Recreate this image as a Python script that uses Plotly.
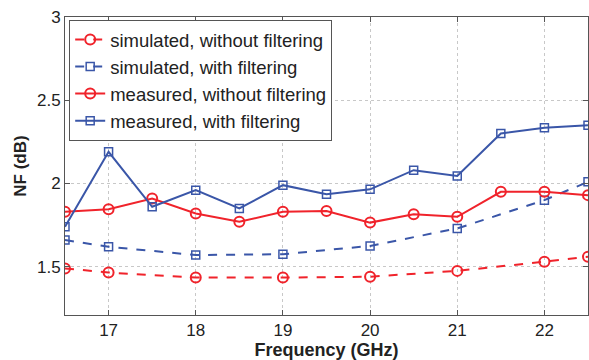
import plotly.graph_objects as go

freq_sim = [16.5, 17, 18, 19, 20, 21, 22, 22.5]
sim_without = [1.49, 1.465, 1.435, 1.435, 1.44, 1.475, 1.53, 1.56]
sim_with = [1.66, 1.62, 1.57, 1.575, 1.625, 1.73, 1.90, 2.01]

freq_meas = [16.5, 17, 17.5, 18, 18.5, 19, 19.5, 20, 20.5, 21, 21.5, 22, 22.5]
meas_without = [1.83, 1.845, 1.91, 1.82, 1.77, 1.83, 1.835, 1.765, 1.815, 1.80, 1.95, 1.95, 1.93]
meas_with = [1.74, 2.19, 1.86, 1.96, 1.85, 1.99, 1.935, 1.965, 2.08, 2.045, 2.30, 2.335, 2.35]

names = ["simulated, without filtering", "simulated, with filtering",
         "measured, without filtering", "measured, with filtering"]

RED = "#f0232b"
BLUE = "#3a56a8"
FONT = "Liberation Sans, Arial"

fig = go.Figure()
fig.add_trace(go.Scatter(x=freq_sim, y=sim_without, name=names[0], mode="lines+markers",
                         line=dict(color=RED, width=2, dash="dash"),
                         marker=dict(symbol="circle-open", size=10, color=RED, line=dict(width=2))))
fig.add_trace(go.Scatter(x=freq_sim, y=sim_with, name=names[1], mode="lines+markers",
                         line=dict(color=BLUE, width=2, dash="dash"),
                         marker=dict(symbol="square-open", size=8, color=BLUE, line=dict(width=1.5))))
fig.add_trace(go.Scatter(x=freq_meas, y=meas_without, name=names[2], mode="lines+markers",
                         line=dict(color=RED, width=2),
                         marker=dict(symbol="circle-open", size=10, color=RED, line=dict(width=2))))
fig.add_trace(go.Scatter(x=freq_meas, y=meas_with, name=names[3], mode="lines+markers",
                         line=dict(color=BLUE, width=2),
                         marker=dict(symbol="square-open", size=8, color=BLUE, line=dict(width=1.5))))

axis_common = dict(showline=True, linecolor="#555555", linewidth=1, mirror="ticks",
                   ticks="inside", ticklen=5, tickcolor="#555555",
                   showgrid=True, gridcolor="#c8c8c8", griddash="dot", gridwidth=1,
                   zeroline=False,
                   tickfont=dict(family=FONT, size=17, color="#222222"))

fig.update_layout(
    width=589, height=360,
    margin=dict(l=65, r=1, t=17, b=45),
    paper_bgcolor="white", plot_bgcolor="white",
    xaxis=dict(range=[16.5, 22.5], tickvals=[17, 18, 19, 20, 21, 22],
               title=dict(text="<b>Frequency (GHz)</b>", standoff=5,
                          font=dict(family=FONT, size=18, color="#222222")),
               **axis_common),
    yaxis=dict(range=[1.21, 3], tickvals=[1.5, 2, 2.5, 3], ticktext=["1.5", "2", "2.5", "3"],
               title=dict(text="<b>NF (dB)</b>", standoff=6,
                          font=dict(family=FONT, size=17, color="#222222")),
               **axis_common),
    legend=dict(x=0.008, y=0.99, xanchor="left", yanchor="top",
                bgcolor="white", bordercolor="#555555", borderwidth=1,
                font=dict(family=FONT, size=18.5, color="#222222"),
                tracegroupgap=0, itemwidth=30),
    showlegend=True,
)

fig.write_html("out.html")
